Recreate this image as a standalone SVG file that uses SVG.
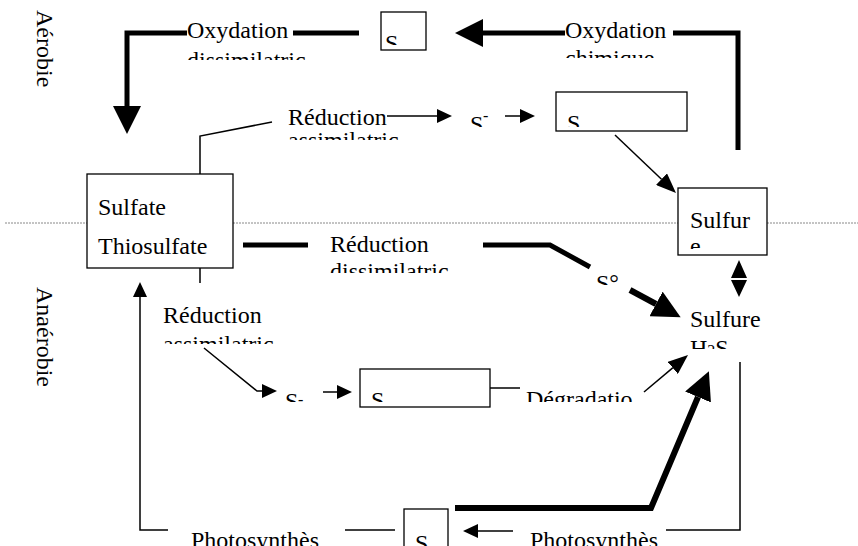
<svg xmlns="http://www.w3.org/2000/svg" width="858" height="546" viewBox="0 0 858 546" font-family="'Liberation Serif', 'Times New Roman', Times, serif">
<style>
.t{font-family:'Liberation Serif', 'Times New Roman', Times, serif;font-size:24px;fill:#000}
.s16{font-size:16px}
.box{fill:#fff;stroke:#000;stroke-width:1.3}
.thin{fill:none;stroke:#000;stroke-width:1.5}
.thick{fill:none;stroke:#000;stroke-width:5;stroke-linejoin:miter}
.thick6{fill:none;stroke:#000;stroke-width:6;stroke-linejoin:miter}
.zone{stroke:#888;stroke-width:1;stroke-dasharray:2 1}
</style>
<defs>
<marker id="hThick" markerUnits="userSpaceOnUse" markerWidth="28" markerHeight="28" viewBox="0 0 28 28" refX="0" refY="14" orient="auto"><path d="M0,0 L28,14 L0,28 z" fill="#000"/></marker>
<marker id="hThin" markerUnits="userSpaceOnUse" markerWidth="15" markerHeight="14" viewBox="0 0 15 14" refX="0" refY="7" orient="auto"><path d="M0,0 L15,7 L0,14 z" fill="#000"/></marker>
<marker id="hMid" markerUnits="userSpaceOnUse" markerWidth="20" markerHeight="16" viewBox="0 0 20 16" refX="0" refY="8" orient="auto"><path d="M0,0 L20,8 L0,16 z" fill="#000"/></marker>
<clipPath id="c45" clipPathUnits="userSpaceOnUse"><rect x="0" y="0" width="858" height="45"/></clipPath>
<clipPath id="c58" clipPathUnits="userSpaceOnUse"><rect x="0" y="0" width="858" height="58"/></clipPath>
<clipPath id="c60" clipPathUnits="userSpaceOnUse"><rect x="0" y="0" width="858" height="60"/></clipPath>
<clipPath id="c127" clipPathUnits="userSpaceOnUse"><rect x="0" y="0" width="858" height="127"/></clipPath>
<clipPath id="c140" clipPathUnits="userSpaceOnUse"><rect x="0" y="0" width="858" height="140"/></clipPath>
<clipPath id="c249" clipPathUnits="userSpaceOnUse"><rect x="0" y="0" width="858" height="249"/></clipPath>
<clipPath id="c273" clipPathUnits="userSpaceOnUse"><rect x="0" y="0" width="858" height="273"/></clipPath>
<clipPath id="c285" clipPathUnits="userSpaceOnUse"><rect x="0" y="0" width="858" height="285"/></clipPath>
<clipPath id="c344" clipPathUnits="userSpaceOnUse"><rect x="0" y="0" width="858" height="344"/></clipPath>
<clipPath id="c349" clipPathUnits="userSpaceOnUse"><rect x="0" y="0" width="858" height="349"/></clipPath>
<clipPath id="c402" clipPathUnits="userSpaceOnUse"><rect x="0" y="0" width="858" height="402"/></clipPath>
</defs>
<rect width="858" height="546" fill="#fff"/>

<g id="zones">
<line class="zone" x1="5" y1="223" x2="858" y2="223"/>
<text class="t" transform="translate(37,10) rotate(90)">Aérobie</text>
<text class="t" transform="translate(37,287) rotate(90)">Anaérobie</text>
</g>

<g id="connectors">
<path class="thick" d="M187,33 H127 V106" marker-end="url(#hThick)"/>
<path class="thick" d="M293,33 H359"/>
<path class="thick" d="M565,33 H483" marker-end="url(#hThick)"/>
<path class="thick" d="M673,33 H738 V150"/>
<path class="thin" d="M200,174 V136 L272,122"/>
<path class="thin" d="M387,116 H437" marker-end="url(#hThin)"/>
<path class="thin" d="M505,116 H520" marker-end="url(#hThin)"/>
<path class="thin" d="M615,135 L661.5,179.2" marker-end="url(#hMid)"/>
<path class="thick" d="M243,245 H308"/>
<path class="thick" d="M483,245 H550 L590,267"/>
<path class="thick6" d="M630,290 L656,304" marker-end="url(#hThick)"/>
<path d="M739,260 L747,278 L731,278 z M731,280 L747,280 L739,297 z" fill="#000"/>
<path class="thin" d="M490,388 H520"/>
<path class="thin" d="M644,392 L672.7,367.9" marker-end="url(#hMid)"/>
<path class="thin" d="M200,268 V283"/>
<path class="thin" d="M204,348 L257,391 H262" marker-end="url(#hThin)"/>
<path class="thin" d="M323,392 H337" marker-end="url(#hThin)"/>
<path class="thin" d="M168,530 H140 V297" marker-end="url(#hThin)"/>
<path class="thin" d="M345,530 H395"/>
<path class="thin" d="M740,362 V530 H666"/>
<path class="thin" d="M513,531 H478" marker-end="url(#hThin)"/>
<path class="thick6" d="M455,508 H651 L698,397" marker-end="url(#hThick)"/>
</g>

<g id="label-oxydation-dissimilatrice">
<text class="t" x="187" y="38">Oxydation</text>
<text class="t" x="187" y="68" clip-path="url(#c60)">dissimilatric</text>
</g>
<g id="label-oxydation-chimique">
<text class="t" x="565" y="38">Oxydation</text>
<text class="t" x="565" y="66" clip-path="url(#c58)">chimique</text>
</g>
<g id="node-s-top">
<rect class="box" x="381" y="12" width="45" height="38"/>
<text class="t" x="385" y="51" clip-path="url(#c45)">S</text>
</g>
<g id="label-reduction-assimilatrice-top">
<text class="t" x="288" y="125">Réduction</text>
<text class="t" x="288" y="148" clip-path="url(#c140)">assimilatric</text>
</g>
<g id="node-s-minus-top">
<text class="t" x="470" y="132" clip-path="url(#c127)">S</text>
<text class="t s16" x="483" y="121">-</text>
</g>
<g id="node-s-box2">
<rect class="box" x="556" y="92" width="131" height="39"/>
<text class="t" x="567" y="131" clip-path="url(#c127)">S</text>
</g>
<g id="node-sulfate">
<rect class="box" x="87" y="174" width="146" height="94"/>
<text class="t" x="98" y="215">Sulfate</text>
<text class="t" x="98" y="254">Thiosulfate</text>
</g>
<g id="node-sulfure-box">
<rect class="box" x="678" y="188" width="89" height="67"/>
<text class="t" x="690" y="228">Sulfur</text>
<text class="t" x="690" y="254" clip-path="url(#c249)">e</text>
</g>
<g id="label-reduction-dissimilatrice">
<text class="t" x="330" y="252">Réduction</text>
<text class="t" x="330" y="279" clip-path="url(#c273)">dissimilatric</text>
</g>
<g id="node-s0">
<text class="t" x="596" y="291" clip-path="url(#c285)">S°</text>
</g>
<g id="node-sulfure-h2s">
<text class="t" x="690" y="327">Sulfure</text>
<text class="t" x="690" y="356" clip-path="url(#c349)">H<tspan class="s16">2</tspan>S</text>
</g>
<g id="label-reduction-assimilatrice-bottom">
<text class="t" x="163" y="323">Réduction</text>
<text class="t" x="163" y="352" clip-path="url(#c344)">assimilatric</text>
</g>
<g id="node-s-minus-bottom">
<text class="t" x="285" y="409" clip-path="url(#c402)">S</text>
<text class="t s16" x="298" y="405">-</text>
</g>
<g id="node-s-box3">
<rect class="box" x="360" y="369" width="130" height="38"/>
<text class="t" x="371" y="408" clip-path="url(#c402)">S</text>
</g>
<g id="label-degradation">
<text class="t" x="526" y="407" clip-path="url(#c402)">Dégradatio</text>
</g>
<g id="label-photosynthese-left">
<text class="t" x="191" y="548">Photosynthès</text>
</g>
<g id="node-s-bottom">
<rect class="box" x="404" y="509" width="44" height="45"/>
<text class="t" x="415" y="551">S</text>
</g>
<g id="label-photosynthese-right">
<text class="t" x="530" y="548">Photosynthès</text>
</g>
</svg>
